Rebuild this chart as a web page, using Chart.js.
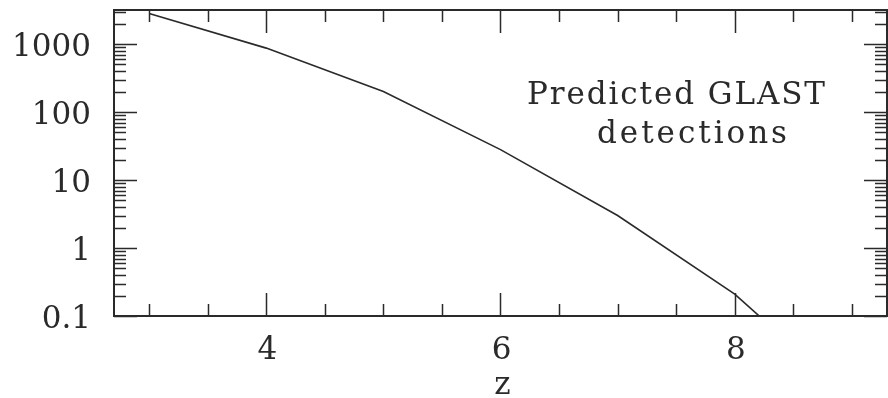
<!DOCTYPE html>
<html>
<head>
<meta charset="utf-8">
<script src="https://cdn.jsdelivr.net/npm/chart.js@4/dist/chart.umd.min.js"></script>
<style>
  html, body { margin: 0; padding: 0; background: #fff; }
  canvas { display: block; }
</style>
</head>
<body>
<canvas id="glast" width="888" height="398"></canvas>
<script>
// redshift vs predicted number of detections
const zValues = [3, 4, 5, 6, 7, 8, 9];
const detections = [2800, 870, 200, 28, 3.0, 0.21, 0.006];

const xMajor = [4, 6, 8];
const xMinor = [3, 3.5, 4.5, 5, 5.5, 6.5, 7, 7.5, 8.5, 9];
const yMajor = [0.1, 1, 10, 100, 1000];
const yLabels = ['0.1', '1', '10', '100', '1000'];
const xLabels = ['4', '6', '8'];

const FONT = '"DejaVu Serif", "Liberation Serif", serif';
const INK = '#2a2a2a';

function spacedText(ctx, text, x, y, align, spacing) {
    ctx.letterSpacing = '0px';
    const w = ctx.measureText(text).width + spacing * (text.length - 1);
    let left = x;
    if (align === 'right') left = x - w;
    else if (align === 'center') left = x - w / 2;
    ctx.letterSpacing = spacing + 'px';
    ctx.textAlign = 'left';
    ctx.fillText(text, left, y);
    ctx.letterSpacing = '0px';
}

function fitText(ctx, text, left, right, y) {
    ctx.letterSpacing = '0px';
    const w = ctx.measureText(text).width;
    const sp = (right - left - w) / (text.length - 1);
    spacedText(ctx, text, left, y, 'left', sp);
}

const frameAndTicks = {
    id: 'frameAndTicks',
    afterDraw(chart) {
        const { ctx, chartArea, scales } = chart;
        const { left, right, top, bottom } = chartArea;
        const big = 23, small = 12;
        ctx.save();
        ctx.strokeStyle = INK;
        ctx.lineWidth = 1.5;

        // x ticks, top and bottom
        const xt = [...xMajor.map(v => [v, big]), ...xMinor.map(v => [v, small])];
        ctx.beginPath();
        xt.forEach(([v, len]) => {
            const px = Math.round(scales.x.getPixelForValue(v)) + 0.5;
            ctx.moveTo(px, bottom); ctx.lineTo(px, bottom - len);
            ctx.moveTo(px, top); ctx.lineTo(px, top + len);
        });
        // y ticks, left and right
        const yt = [];
        [0.1, 1, 10, 100, 1000].forEach(d => {
            yt.push([d, big]);
            for (let k = 2; k <= 9; k++) {
                const v = d * k;
                if (v <= scales.y.max) yt.push([v, small]);
            }
        });
        yt.forEach(([v, len]) => {
            const py = Math.round(scales.y.getPixelForValue(v)) + 0.5;
            ctx.moveTo(left, py); ctx.lineTo(left + len, py);
            ctx.moveTo(right, py); ctx.lineTo(right - len, py);
        });
        ctx.stroke();

        // frame
        ctx.lineWidth = 2;
        ctx.strokeRect(left, top, right - left, bottom - top);

        // tick labels
        ctx.fillStyle = INK;
        ctx.font = '31px ' + FONT;
        ctx.textBaseline = 'alphabetic';
        yMajor.forEach((v, i) => {
            const py = scales.y.getPixelForValue(v);
            spacedText(ctx, yLabels[i], left - 23, py + 12, 'right', 0);
        });
        xMajor.forEach((v, i) => {
            const px = scales.x.getPixelForValue(v);
            spacedText(ctx, xLabels[i], px + 1, bottom + 43, 'center', 0);
        });
        // axis title
        spacedText(ctx, 'z', scales.x.getPixelForValue(6) + 2, bottom + 78, 'center', 0);

        // note
        fitText(ctx, 'Predicted GLAST', 527, 825, 104);
        fitText(ctx, 'detections', 597, 787, 143);
        ctx.restore();
    }
};

new Chart(document.getElementById('glast'), {
    type: 'line',
    data: {
        datasets: [{
            data: zValues.map((z, i) => ({ x: z, y: detections[i] })),
            borderColor: INK,
            borderWidth: 1.6,
            pointRadius: 0,
            tension: 0,
            fill: false
        }]
    },
    options: {
        responsive: false,
        animation: false,
        devicePixelRatio: 1,
        layout: { padding: { left: 114, right: 1, top: 10, bottom: 82 } },
        plugins: { legend: { display: false }, tooltip: { enabled: false } },
        scales: {
            x: { type: 'linear', min: 2.7, max: 9.3, display: false },
            y: { type: 'logarithmic', min: 0.1, max: 3162, display: false }
        }
    },
    plugins: [frameAndTicks]
});
</script>
</body>
</html>
